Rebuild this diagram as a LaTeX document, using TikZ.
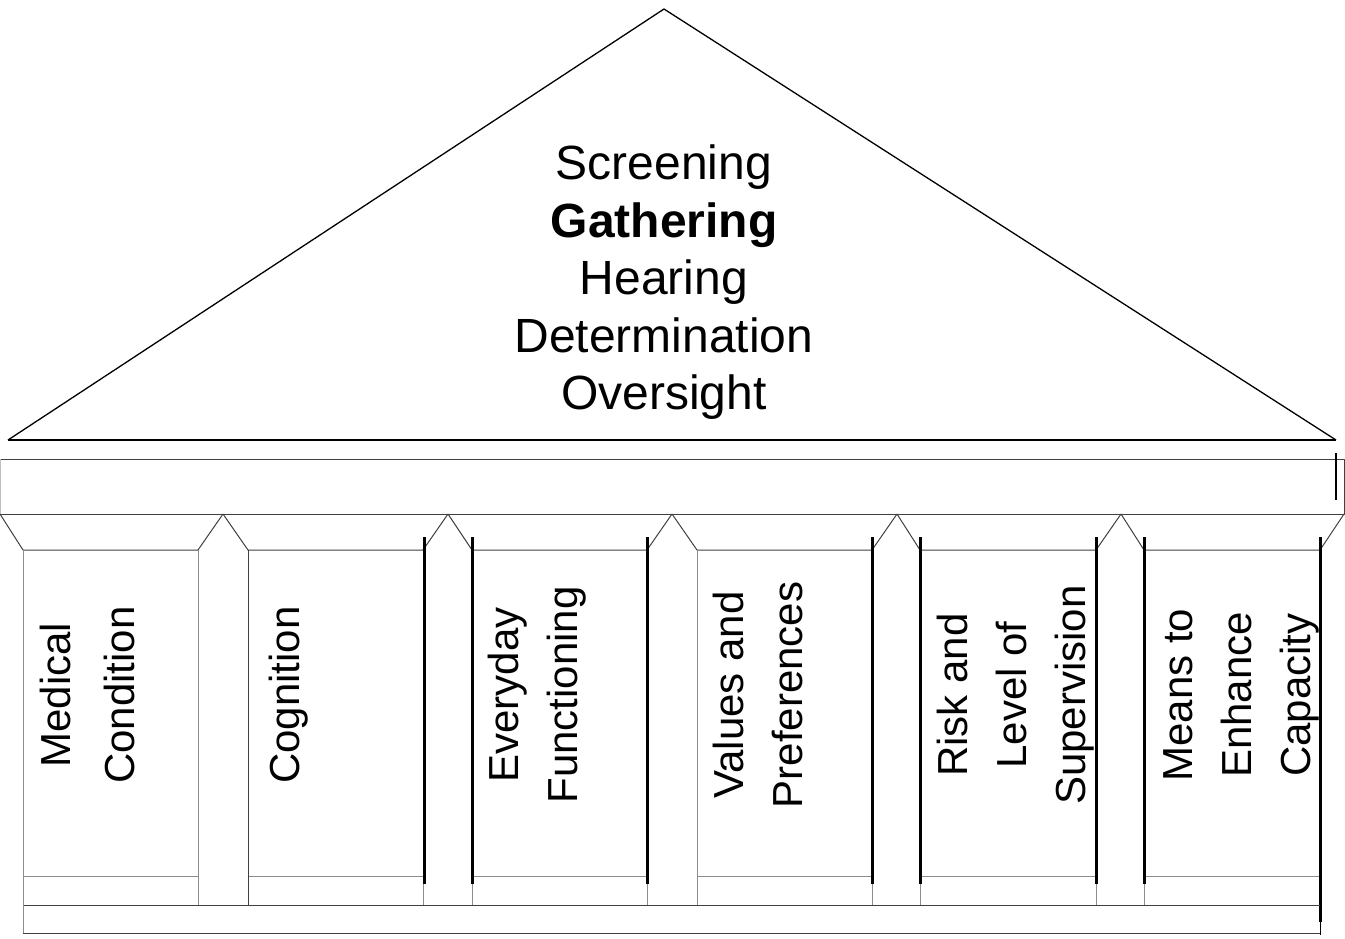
\documentclass[tikz,border=0pt]{standalone}
\usepackage{fontspec}
\setmainfont{Liberation Sans}
\begin{document}
\begin{tikzpicture}[x=1pt,y=-1pt,line join=round,
  roof/.style={line width=1.3pt,draw=black},
  darkline/.style={line width=1pt,draw=black!75},
  grayline/.style={line width=1pt,draw=black!45},
  thickbar/.style={line width=3pt,draw=black},
  rooftext/.style={anchor=north,align=center,inner sep=0pt,font=\fontsize{48}{57.5}\selectfont},
  coltext/.style={rotate=90,anchor=north,align=center,inner sep=0pt,font=\fontsize{42}{#1}\selectfont},
  coltext/.default=59]
\useasboundingbox (0,0) rectangle (1345,938);

% roof
\coordinate (rl) at (8,440);
\coordinate (rt) at (664,9);
\coordinate (rr) at (1336,440);
\draw[roof] (rl) -- (rt) -- (rr);
\draw[line width=2pt] (rl) -- (rr);
\node[rooftext] (rooflabel) at (664,145) {Screening\\\textbf{Gathering}\\Hearing\\Determination\\Oversight};

% entablature
\draw[darkline] (0,459) rectangle (1344,514);
\draw[grayline,draw=black!25] (0,459) -- (0,514);
\draw[line width=2pt] (1336,453) -- (1336,500);

% capitals and shafts
\foreach \L/\R/\A/\B in {23/198/0/223, 248/423/223/448, 472/647/448/672, 697/872/672/897, 920/1096/897/1121, 1144/1320/1121/1344}{
  \draw[darkline] (\A,514) -- (\L,550) -- (\R,550) -- (\B,514);
  \draw[grayline] (\L,550) -- (\L,905);
  \draw[grayline] (\R,550) -- (\R,905);
  \draw[grayline] (\L,876) -- (\R,876);
}
\draw[darkline] (248,550) -- (248,905);

% thick black edges
\foreach \X in {424,472,647,872,920,1096,1144}{
  \draw[thickbar] (\X,537) -- (\X,884);
}
\draw[thickbar] (1320,537) -- (1320,922);
\draw[line width=1pt] (1320,922) -- (1320,935);

% base
\draw[darkline] (23,905) -- (1320,905);
\draw[darkline] (23,933) -- (1320,933);
\draw[grayline] (23,905) -- (23,933);

% column labels
\node[coltext=64] (c1) at (40,695) {Medical\\Condition};
\node[coltext] (c2) at (269,695) {Cognition};
\node[coltext] (c3) at (488,695) {Everyday\\Functioning};
\node[coltext] (c4) at (713,695) {Values and\\Preferences};
\node[coltext] (c5) at (937,695) {Risk and\\Level of\\Supervision};
\node[coltext] (c6) at (1163,695) {Means to\\Enhance\\Capacity};
\end{tikzpicture}
\end{document}
